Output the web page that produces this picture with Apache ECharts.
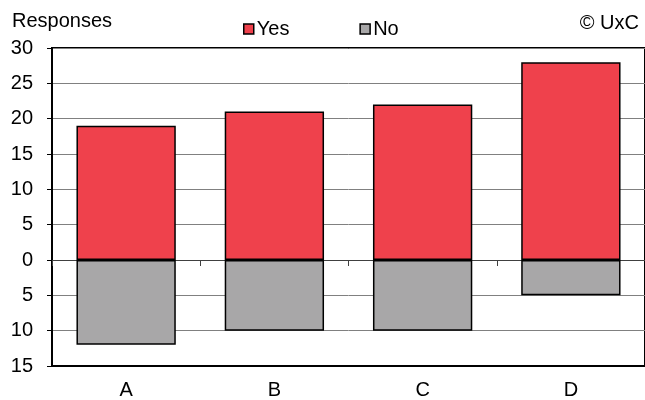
<!DOCTYPE html>
<html>
<head>
<meta charset="utf-8">
<script src="https://cdn.jsdelivr.net/npm/echarts@6/dist/echarts.min.js"></script>
<style>html,body{margin:0;padding:0;background:#fff;}#c{width:645px;height:400px;}</style>
</head>
<body>
<div id="c"></div>
<script>
var categories = ['A', 'B', 'C', 'D'];
var yesValues = [19, 21, 22, 28];
var noValues = [-12, -10, -10, -5];
var yTicks = {min: -15, max: 30, interval: 5};

var font = 'Liberation Sans, Arial, sans-serif';
var fs = 20;
var chart = echarts.init(document.getElementById('c'), null, {renderer: 'canvas'});
chart.setOption({
  animation: false,
  backgroundColor: '#fff',
  textStyle: {fontFamily: font, color: '#000'},
  grid: {left: 52, right: -4, top: 48, bottom: 33, show: true, borderColor: '#000', borderWidth: 2, backgroundColor: 'transparent'},
  title: [
    {text: 'Responses', left: 12, top: 11, padding: 0, textStyle: {fontFamily: font, fontSize: fs, fontWeight: 'normal', color: '#000'}},
    {text: '© UxC', right: 6, top: 13, padding: 0, textStyle: {fontFamily: font, fontSize: fs, fontWeight: 'normal', color: '#000'}}
  ],
  legend: {
    left: 243, top: 19, padding: 0, itemWidth: 10, itemHeight: 10, itemGap: 70,
    textStyle: {fontFamily: font, fontSize: fs, color: '#000', padding: [0, 0, 0, -2]},
    data: [
      {name: 'Yes', icon: 'rect', itemStyle: {borderColor: '#000', borderWidth: 1.5}},
      {name: 'No', icon: 'rect', itemStyle: {borderColor: '#000', borderWidth: 1.5}}
    ]
  },
  xAxis: [
    {type: 'category', data: categories, position: 'bottom', axisLine: {onZero: false, lineStyle: {color: '#000', width: 2}},
     axisTick: {show: false}, axisLabel: {fontFamily: font, fontSize: fs, color: '#000', margin: 14}},
    {type: 'category', data: categories, position: 'bottom', axisLine: {onZero: true, onZeroAxisIndex: 0, lineStyle: {color: '#404040', width: 1}},
     axisTick: {show: true, length: 6, inside: false, lineStyle: {color: '#404040'}}, axisLabel: {show: false}}
  ],
  yAxis: {
    type: 'value', min: yTicks.min, max: yTicks.max, interval: yTicks.interval,
    axisLine: {show: true, lineStyle: {color: '#000', width: 2}},
    axisTick: {show: true, length: 5, lineStyle: {color: '#000'}},
    axisLabel: {fontFamily: font, fontSize: fs, color: '#000', margin: 19, formatter: function (v) { return Math.abs(v); }},
    splitLine: {show: true, lineStyle: {color: '#808080', width: 1}}
  },
  series: [
    {name: 'Yes', type: 'bar', stack: 's', data: yesValues, barWidth: '67%', itemStyle: {color: '#EF414C', borderColor: '#000', borderWidth: 1.5}},
    {name: 'No', type: 'bar', stack: 's', data: noValues, barWidth: '67%', itemStyle: {color: '#A8A7A8', borderColor: '#000', borderWidth: 1.5}}
  ]
});
</script>
</body>
</html>
